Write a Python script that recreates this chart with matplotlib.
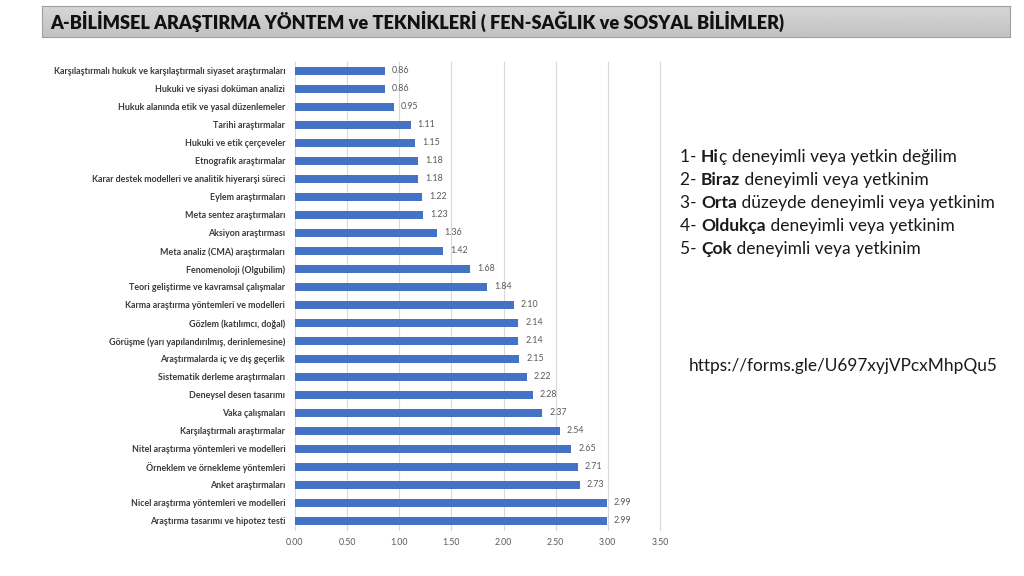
import matplotlib
matplotlib.use("Agg")
import matplotlib.pyplot as plt
import numpy as np

plt.rcParams['font.family'] = ['Lato', 'DejaVu Sans']

categories = [
    "Karşılaştırmalı hukuk ve karşılaştırmalı siyaset araştırmaları",
    "Hukuki ve siyasi doküman analizi",
    "Hukuk alanında etik ve yasal düzenlemeler",
    "Tarihi araştırmalar",
    "Hukuki ve etik çerçeveler",
    "Etnografik araştırmalar",
    "Karar destek modelleri ve analitik hiyerarşi süreci",
    "Eylem araştırmaları",
    "Meta sentez araştırmaları",
    "Aksiyon araştırması",
    "Meta analiz (CMA) araştırmaları",
    "Fenomenoloji (Olgubilim)",
    "Teori geliştirme ve kavramsal çalışmalar",
    "Karma araştırma yöntemleri ve modelleri",
    "Gözlem (katılımcı, doğal)",
    "Görüşme (yarı yapılandırılmış, derinlemesine)",
    "Araştırmalarda iç ve dış geçerlik",
    "Sistematik derleme araştırmaları",
    "Deneysel desen tasarımı",
    "Vaka çalışmaları",
    "Karşılaştırmalı araştırmalar",
    "Nitel araştırma yöntemleri ve modelleri",
    "Örneklem ve örnekleme yöntemleri",
    "Anket araştırmaları",
    "Nicel araştırma yöntemleri ve modelleri",
    "Araştırma tasarımı ve hipotez testi",
]
values = [0.86, 0.86, 0.95, 1.11, 1.15, 1.18, 1.18, 1.22, 1.23, 1.36, 1.42,
          1.68, 1.84, 2.10, 2.14, 2.14, 2.15, 2.22, 2.28, 2.37, 2.54, 2.65,
          2.71, 2.73, 2.99, 2.99]
x_ticks = [0.0, 0.5, 1.0, 1.5, 2.0, 2.5, 3.0, 3.5]

title = "A-BİLİMSEL ARAŞTIRMA YÖNTEM ve TEKNİKLERİ ( "
title2 = "FEN-SAĞLIK ve SOSYAL BİLİMLER)"
legend_bold = ["Hi", "Biraz", "Orta", "Oldukça", "Çok"]
legend_prefix = ["1- ", "2- ", "3- ", "4- ", "5- "]
legend_rest = ["ç deneyimli veya yetkin değilim", " deneyimli veya yetkinim",
               " düzeyde deneyimli veya yetkinim", " deneyimli veya yetkinim",
               " deneyimli veya yetkinim"]
url = "https://forms.gle/U697xyjVPcxMhpQu5"

W, H = 1024, 576
fig = plt.figure(figsize=(W / 100, H / 100), dpi=100)
fig.patch.set_facecolor("white")

# Title banner
tax = fig.add_axes([42 / W, 1 - 37 / H, (1010 - 42) / W, 31 / H])
grad = np.linspace(0.84, 0.76, 50).reshape(-1, 1)
tax.imshow(grad, cmap="gray", vmin=0, vmax=1, aspect="auto", extent=[0, 1, 0, 1])
tax.set_xlim(0, 1); tax.set_ylim(0, 1)
tax.set_xticks([]); tax.set_yticks([])
for s in tax.spines.values():
    s.set_color("#a0a0a0"); s.set_linewidth(0.8)
t1 = fig.text(50 / W, 1 - 21 / H, title, fontsize=13.1, fontweight="heavy",
              color="#111111", va="center", ha="left")
fig.canvas.draw()
r = fig.canvas.get_renderer()
bb = t1.get_window_extent(r)
fig.text(bb.x1 / W, 1 - 21 / H, title2, fontsize=13.1, fontweight="heavy",
         color="#111111", va="center", ha="left")

# Main chart
ax = fig.add_axes([295 / W, 1 - 530 / H, 365 / W, 468 / H])
y = np.arange(len(categories))
ax.barh(y, values, height=0.4, color="#4472C4", zorder=3)
ax.set_ylim(len(categories) - 0.5, -0.5)
ax.set_xlim(0, 3.5)
ax.set_xticks(x_ticks)
ax.set_xticklabels([f"{v:.2f}" for v in x_ticks], fontsize=6.3, color="#595959")
ax.set_yticks(y)
ax.set_yticklabels(categories, fontsize=6.4, fontweight="bold", color="#3a3a3a")
ax.tick_params(axis="both", length=0)
ax.tick_params(axis="x", pad=6)
ax.tick_params(axis="y", pad=7)
ax.grid(axis="x", color="#d9d9d9", linewidth=0.8, zorder=0)
for gl in ax.get_xgridlines():
    gl.set_clip_on(False)
for s in ax.spines.values():
    s.set_visible(False)
for yi, v in zip(y, values):
    ax.annotate(f"{v:.2f}", (v, yi), xytext=(5, 0), textcoords="offset points",
                fontsize=6.4, color="#595959", va="center", ha="left")

# Legend text
fs = 12.5
for i in range(5):
    ypos = 1 - (157 + 23 * i) / H
    xpix = 680
    for txt, wt in [(legend_prefix[i], "normal"), (legend_bold[i], "bold"), (legend_rest[i], "normal")]:
        t = fig.text(xpix / W, ypos, txt, fontsize=fs, fontweight=wt, color="#1a1a1a",
                     va="center", ha="left")
        fig.canvas.draw()
        e = t.get_window_extent(fig.canvas.get_renderer())
        xpix = e.x1

fig.text(689 / W, 1 - 366 / H, url, fontsize=12.4, color="#1a1a1a", va="center", ha="left")

fig.savefig("out.png", dpi=100)
